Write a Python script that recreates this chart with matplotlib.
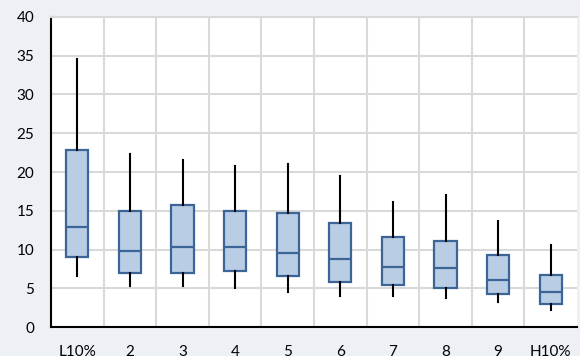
import matplotlib.pyplot as plt
from matplotlib.ticker import MultipleLocator, FixedLocator

labels = ["L10%", "2", "3", "4", "5", "6", "7", "8", "9", "H10%"]
whislo = [6.6, 5.3, 5.3, 5.05, 4.55, 4.05, 4.0, 3.8, 3.25, 2.2]
q1 = [9.05, 7.05, 7.05, 7.3, 6.6, 5.8, 5.5, 5.0, 4.25, 2.95]
med = [12.9, 9.85, 10.35, 10.35, 9.6, 8.85, 7.8, 7.6, 6.1, 4.5]
q3 = [22.9, 14.95, 15.75, 15.0, 14.75, 13.45, 11.65, 11.1, 9.35, 6.8]
whishi = [34.6, 22.35, 21.6, 20.8, 21.1, 19.5, 16.2, 17.0, 13.65, 10.55]

bg = "#EDF1F6"
edge = "#3B6497"
fill = "#B9CDE5"
grid = "#D9D9D9"

plt.rcParams['font.family'] = ['Lato', 'DejaVu Sans']

fig = plt.figure(figsize=(5.8, 3.56), dpi=100, facecolor=bg)
ax = fig.add_axes([51 / 580, (356 - 327.3) / 356, 526 / 580, (327.3 - 16.8) / 356])
ax.set_facecolor("white")

stats = []
for i in range(len(labels)):
    stats.append(dict(label=labels[i], whislo=whislo[i], q1=q1[i], med=med[i],
                      q3=q3[i], whishi=whishi[i], fliers=[]))

ax.bxp(stats, positions=range(1, len(labels) + 1), widths=0.42,
       showcaps=False, showfliers=False, patch_artist=True,
       boxprops=dict(facecolor=fill, edgecolor=edge, linewidth=1.6),
       medianprops=dict(color=edge, linewidth=1.6),
       whiskerprops=dict(color="black", linewidth=1.5),
       zorder=3)

ax.set_xlim(0.5, len(labels) + 0.5)
ax.set_ylim(0, 40)
ax.yaxis.set_major_locator(MultipleLocator(5))
ax.xaxis.set_minor_locator(FixedLocator([i + 0.5 for i in range(1, len(labels))]))
ax.set_xticks(range(1, len(labels) + 1))
ax.set_xticklabels(labels)

ax.grid(axis="y", which="major", color=grid, linewidth=1.5, zorder=0)
ax.grid(axis="x", which="minor", color=grid, linewidth=1.5, zorder=0)
ax.set_axisbelow(True)

ax.tick_params(axis="both", which="both", length=0, labelsize=11, colors="black")
ax.tick_params(axis="y", pad=12)
ax.tick_params(axis="x", pad=13)

for s in ["top", "right"]:
    ax.spines[s].set_color(grid)
    ax.spines[s].set_linewidth(1.5)
ax.spines["right"].set_visible(False)
for s in ["left", "bottom"]:
    ax.spines[s].set_color("black")
    ax.spines[s].set_linewidth(1.5)

fig.savefig("out.png", dpi=100, facecolor=bg)
